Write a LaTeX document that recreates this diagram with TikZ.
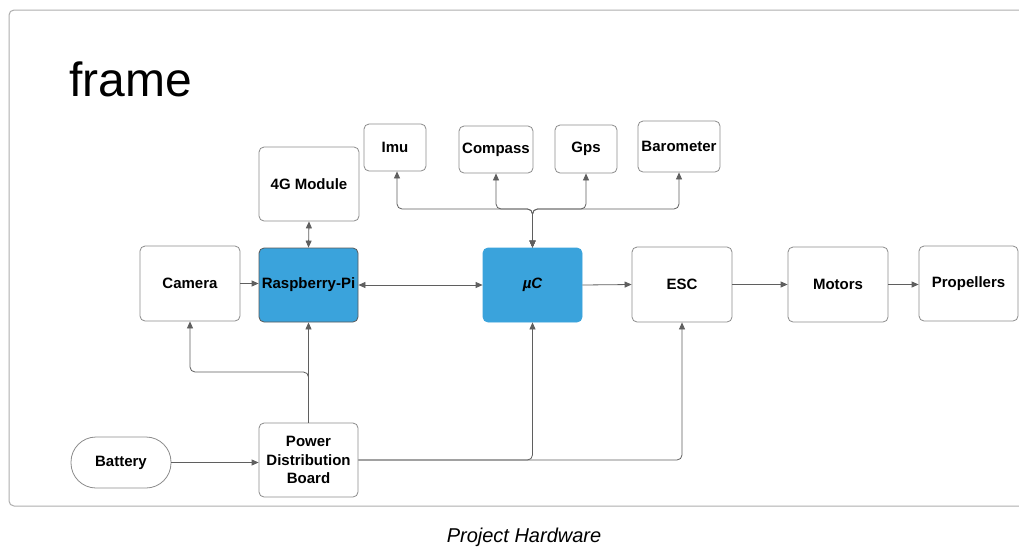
\documentclass[tikz,border=0pt]{standalone}
\usepackage{fontspec}
\setmainfont{Liberation Sans}
\usetikzlibrary{arrows.meta}
\definecolor{boxline}{RGB}{140,140,140}
\definecolor{wire}{RGB}{95,95,95}
\definecolor{chipblue}{RGB}{58,163,220}
\tikzset{
  block/.style={draw=boxline, line width=0.8pt, rounded corners=5pt, fill=white,
    inner sep=0pt, align=center, text=black,
    font=\fontsize{15}{18.5}\selectfont\bfseries},
  chip/.style={block, fill=chipblue},
  wireline/.style={draw=wire, line width=0.8pt, rounded corners=5pt},
  fwd/.style={wireline, -{Triangle[length=7pt,width=6pt]}},
  both/.style={wireline, {Triangle[length=7pt,width=6pt]}-{Triangle[length=7pt,width=6pt]}},
}
\begin{document}
\begin{tikzpicture}[x=1pt,y=-1pt]
\useasboundingbox (0,0) rectangle (1019,547);
\fill[white] (0,0) rectangle (1019,547);
% outer frame, running off the right side
\draw[boxline!70, line width=1pt, rounded corners=5pt] (9,10) rectangle (1040,506);
\node[anchor=base west, font=\fontsize{48}{50}\selectfont] (title) at (66,96) {frame};

% blocks
\node[block, minimum width=100pt, minimum height=74pt] (g4) at (309,184) {4G Module};
\node[block, minimum width=62pt, minimum height=47pt] (imu) at (395,147.5) {Imu};
\node[block, minimum width=74pt, minimum height=47pt] (comp) at (496,149.5) {Compass};
\node[block, minimum width=62pt, minimum height=48pt] (gps) at (586,149) {Gps};
\node[block, minimum width=82pt, minimum height=51pt] (baro) at (679,146.5) {Barometer};
\node[block, minimum width=100pt, minimum height=75pt] (cam) at (190,283.5) {Camera};
\node[chip, draw=black!65, minimum width=99pt, minimum height=74pt] (rpi) at (308.5,285) {Raspberry-Pi};
\node[chip, draw=chipblue, minimum width=99pt, minimum height=74pt] (uc) at (532.5,285) {\itshape µC};
\node[block, minimum width=100pt, minimum height=75pt] (esc) at (682,284.5) {ESC};
\node[block, minimum width=100pt, minimum height=75pt] (mot) at (838,284.5) {Motors};
\node[block, minimum width=99pt, minimum height=75pt] (prop) at (968.5,283.5) {Propellers};
\node[block, rounded corners=25pt, minimum width=100pt, minimum height=51pt] (bat) at (121,462.5) {Battery};
\node[block, minimum width=99pt, minimum height=74pt] (pdb) at (308.5,460) {Power\\Distribution\\Board};

% data links
\draw[both] (g4.south) -- (rpi.north);
\draw[fwd] (cam.east) -- (cam.east -| rpi.west);
\draw[both] (rpi.east) -- (uc.west);
\draw[fwd] (uc.east) -- (esc.west);
\draw[fwd] (esc.east) -- (mot.west);
\draw[fwd] (mot.east) -- (mot.east -| prop.west);

% sensor bus
\coordinate (bus) at (532.5,209);
\draw[both] (uc.north) -- (bus) -| ([xshift=2pt]imu.south);
\draw[both] (uc.north) -- (bus) -| (comp.south);
\draw[both] (uc.north) -- (bus) -| (gps.south);
\draw[both] (uc.north) -- (bus) -| (baro.south);

% power distribution
\draw[fwd] (bat.east) -- (bat.east -| pdb.west);
\draw[fwd] (pdb.north) -- (rpi.south);
\coordinate (split) at (308.5,372);
\draw[fwd] (pdb.north) -- (split) -| (cam.south);
\draw[fwd] (pdb.east) -| (uc.south);
\draw[fwd] (pdb.east) -| (esc.south);

\node[anchor=base, font=\fontsize{20}{22}\selectfont\itshape] (caption) at (524,542) {Project Hardware};
\end{tikzpicture}
\end{document}
